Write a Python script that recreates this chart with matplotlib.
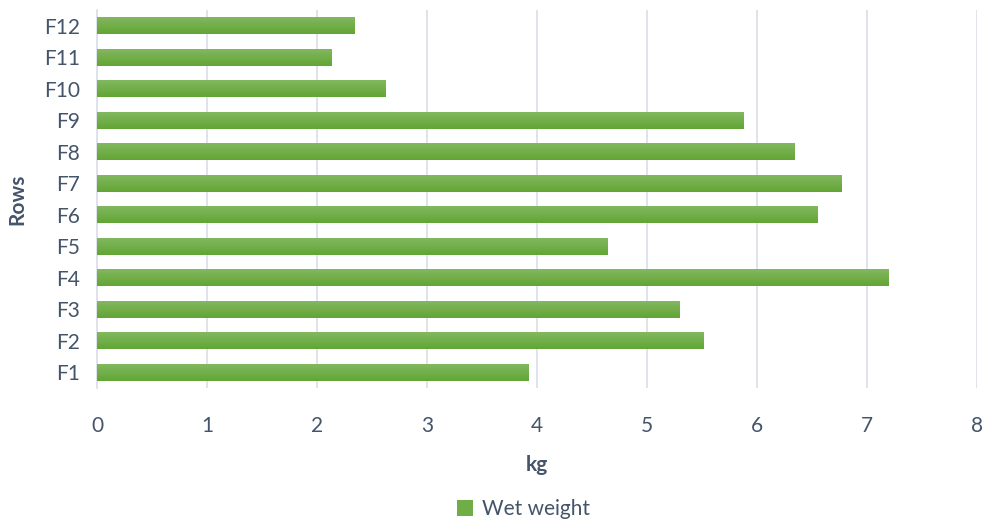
import numpy as np
import matplotlib
matplotlib.use("Agg")
import matplotlib.pyplot as plt
from matplotlib.colors import LinearSegmentedColormap
from matplotlib.patches import Patch

rows = ["F1", "F2", "F3", "F4", "F5", "F6", "F7", "F8", "F9", "F10", "F11", "F12"]
wet_weight = [3.92, 5.51, 5.30, 7.20, 4.64, 6.55, 6.77, 6.34, 5.88, 2.62, 2.13, 2.34]
x_ticks = [0, 1, 2, 3, 4, 5, 6, 7, 8]

plt.rcParams["font.family"] = ["Lato", "DejaVu Sans"]
text_color = "#44546a"
grid_color = "#dde1e8"

fig = plt.figure(figsize=(9.87, 5.25), dpi=100)
ax = fig.add_axes([97 / 987, 1 - 388 / 525, (977 - 97) / 987, (388 - 10) / 525])

y = np.arange(len(rows))
bar_h = 0.55
bars = ax.barh(y, wet_weight, height=bar_h, color="#70ad47", zorder=2)

# vertical gradient fill on each bar
grad = LinearSegmentedColormap.from_list("g", ["#62a535", "#84b962"])
gimg = np.linspace(0, 1, 64).reshape(-1, 1)
for b in bars:
    x0, y0 = b.get_x(), b.get_y()
    w, h = b.get_width(), b.get_height()
    im = ax.imshow(gimg, cmap=grad, aspect="auto", origin="lower",
                   extent=[x0, x0 + w, y0, y0 + h], zorder=3)
    im.set_clip_path(b)

ax.set_xlim(0, 8)
ax.set_ylim(-0.5, len(rows) - 0.5)
ax.set_xticks(x_ticks)
ax.set_yticks(y)
ax.set_yticklabels(rows)
ax.grid(axis="x", color=grid_color, linewidth=1.3, zorder=0)
ax.set_axisbelow(True)
for s in ["top", "right", "bottom"]:
    ax.spines[s].set_visible(False)
ax.spines["left"].set_color(grid_color)
ax.spines["left"].set_linewidth(1.3)
ax.tick_params(axis="both", length=0, labelsize=15, labelcolor=text_color)
ax.tick_params(axis="x", pad=20)
ax.tick_params(axis="y", pad=12)

ax.set_xlabel("kg", fontsize=15, fontweight="bold", color=text_color, labelpad=14)
ax.set_ylabel("Rows", fontsize=15, fontweight="bold", color=text_color, labelpad=12)

handle = Patch(facecolor="#70ad47", edgecolor="none")
fig.legend([handle], ["Wet weight"], loc="center", bbox_to_anchor=(0.53, 1 - 509 / 525),
           frameon=False, fontsize=15, labelcolor=text_color,
           handlelength=0.8, handleheight=0.8, handletextpad=0.4)

fig.savefig("out.png", dpi=100)
